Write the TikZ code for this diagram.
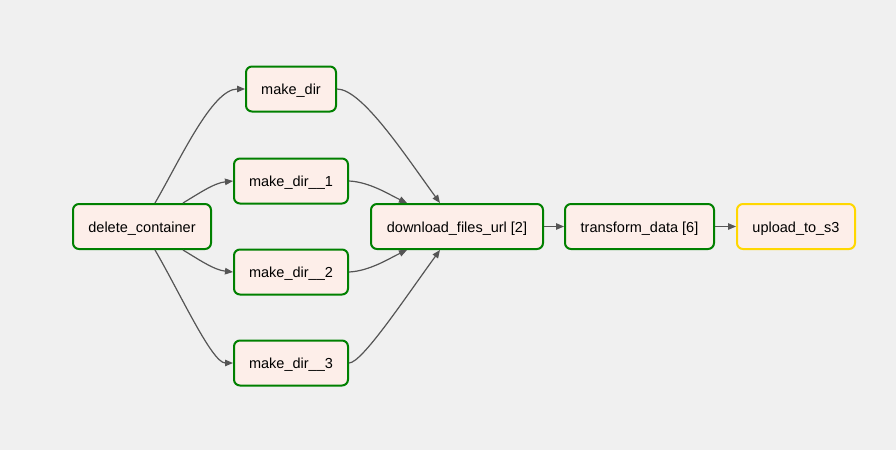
\documentclass[tikz,border=0pt]{standalone}
\usepackage{fontspec}
\setmainfont{Liberation Sans}
\usetikzlibrary{arrows.meta}
\definecolor{bgc}{HTML}{F0F0F0}
\definecolor{taskfill}{HTML}{FDEEE9}
\definecolor{okgreen}{HTML}{008000}
\definecolor{upgold}{HTML}{FFD700}
\definecolor{edgec}{HTML}{555555}
\begin{document}
\begin{tikzpicture}[x=1pt,y=-1pt,
  task/.style={draw=okgreen,fill=taskfill,line width=2pt,rounded corners=6pt,minimum height=45pt,inner sep=0pt,text depth=0pt,text height=11pt,font=\fontsize{14.5}{17}\selectfont},
  edge/.style={draw=edgec,line width=1.2pt,-{Triangle[length=8pt,width=6.5pt]}}]
\fill[bgc] (0,0) rectangle (896,450);
\useasboundingbox (0,0) rectangle (896,450);
\node[task,minimum width=138pt] (dc) at (142,226.5) {delete\_container};
\node[task,minimum width=90pt] (md) at (291,89) {make\_dir};
\node[task,minimum width=114pt] (md1) at (291,181) {make\_dir\_\_1};
\node[task,minimum width=114pt] (md2) at (291,272) {make\_dir\_\_2};
\node[task,minimum width=114pt] (md3) at (291,363) {make\_dir\_\_3};
\node[task,minimum width=172pt] (dl) at (457,226.5) {download\_files\_url [2]};
\node[task,minimum width=149pt] (tr) at (639.5,226.5) {transform\_data [6]};
\node[task,draw=upgold,minimum width=118pt] (up) at (796,226.5) {upload\_to\_s3};
\draw[edge] ([xshift=13pt]dc.north) .. controls (180,160) and (212,89) .. (md.west);
\draw[edge] ([xshift=41pt]dc.north) .. controls (198,194) and (214,183) .. (md1.west);
\draw[edge] ([xshift=41pt]dc.south) .. controls (198,259) and (214,270) .. (md2.west);
\draw[edge] ([xshift=13pt]dc.south) .. controls (180,293) and (212,363) .. (md3.west);
\draw[edge] (md.east) .. controls (362,89) and (405,155) .. ([xshift=-17pt]dl.north);
\draw[edge] (md1.east) .. controls (370,182) and (390,195) .. ([xshift=-50pt]dl.north);
\draw[edge] (md2.east) .. controls (370,271) and (390,258) .. ([xshift=-50pt]dl.south);
\draw[edge] (md3.east) .. controls (362,363) and (405,298) .. ([xshift=-17pt]dl.south);
\draw[edge] (dl) -- (tr);
\draw[edge] (tr) -- (up);
\end{tikzpicture}
\end{document}
